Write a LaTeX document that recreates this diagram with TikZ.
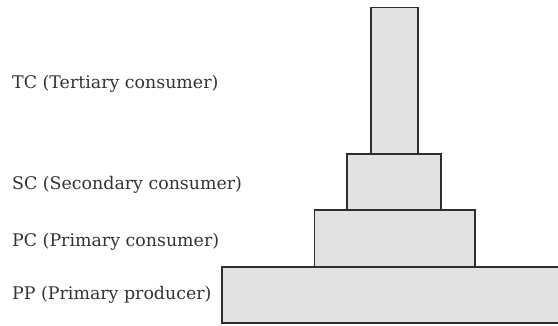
\documentclass[tikz,border=0pt]{standalone}
\usepackage{fontspec}
\setmainfont{DejaVu Serif}
\definecolor{boxfill}{HTML}{E2E2E2}
\definecolor{boxline}{HTML}{2E2E2E}
\definecolor{txt}{HTML}{333333}
\begin{document}
\begin{tikzpicture}[x=1pt,y=-1pt,
  level/.style={draw=boxline,fill=boxfill,line width=1.4pt},
  lab/.style={anchor=base west,inner sep=0pt,text=txt,font=\fontsize{17.4}{20}\selectfont}]
\useasboundingbox (0,0) rectangle (558,326);
\draw[level] (222,267) rectangle (562,323);
\draw[level] (314.5,210) rectangle (475,267);
\draw[level] (347,154) rectangle (441,210);
\draw[level] (371,7.5) rectangle (418,154);
\node[lab] (tc) at (12,89) {TC (Tertiary consumer)};
\node[lab] (sc) at (12,190) {SC (Secondary consumer)};
\node[lab] (pc) at (12,246.5) {PC (Primary consumer)};
\node[lab] (pp) at (12,300) {PP (Primary producer)};
\end{tikzpicture}
\end{document}
